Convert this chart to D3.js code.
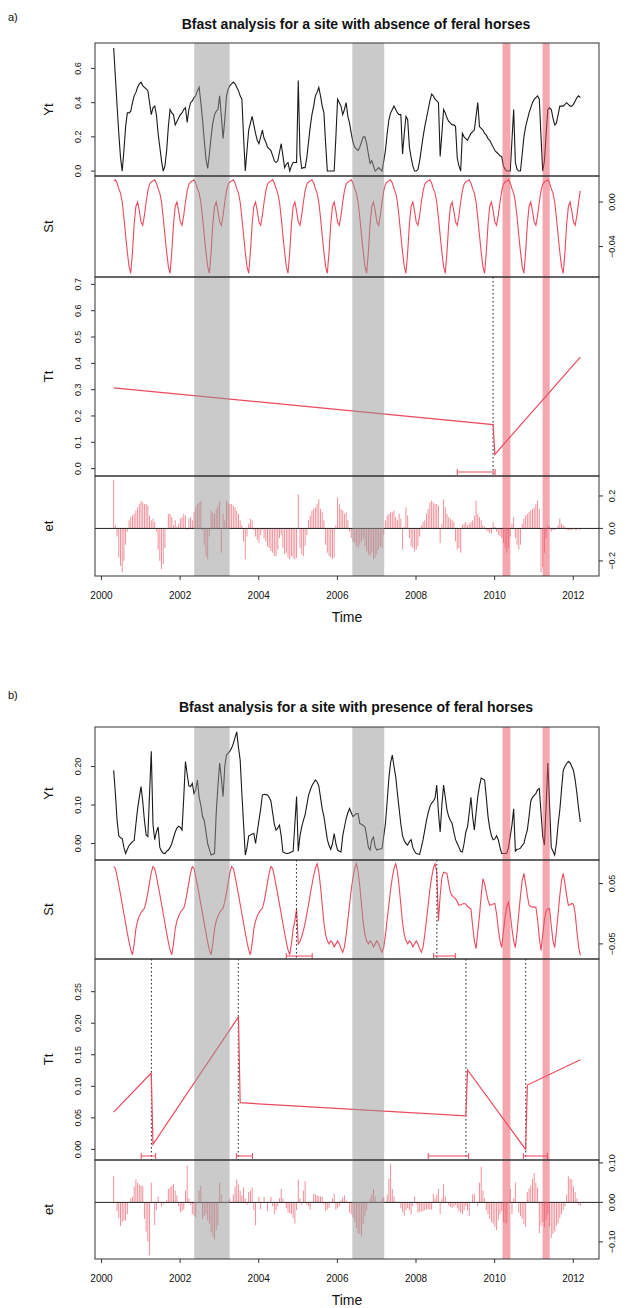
<!DOCTYPE html>
<html>
<head>
<meta charset="utf-8">
<script src="https://cdn.jsdelivr.net/npm/d3@7"></script>
<style>
  body { margin: 0; background: #fff; }
  svg { display: block; }
  text { font-family: "Liberation Sans", Arial, Helvetica, sans-serif; fill: #111; }
</style>
</head>
<body>
<svg id="chart" width="630" height="1308"></svg>
<script>
// 16-day composites: 23 observations per year
const obsStart = 2000.31;
const obsPerYear = 23;

const yearTicks = [2000, 2002, 2004, 2006, 2008, 2010, 2012];
const greyPeriods = [[2002.36, 2003.26], [2006.38, 2007.19]];
const redPeriods = [[2010.20, 2010.40], [2011.22, 2011.40]];

// ---------- site a: absence of feral horses ----------
const ytA = [
0.72,0.55,0.38,0.22,0.08,0.00,0.12,0.26,0.34,0.34,
0.35,0.40,0.44,0.46,0.49,0.51,0.52,0.50,0.49,0.48,
0.47,0.40,0.33,0.37,0.38,0.33,0.22,0.14,0.06,0.00,
0.03,0.12,0.26,0.36,0.34,0.33,0.27,0.29,0.31,0.33,
0.34,0.36,0.37,0.285,0.36,0.40,0.41,0.43,0.44,0.47,
0.49,0.40,0.30,0.18,0.07,0.015,0.10,0.20,0.28,0.33,
0.35,0.36,0.44,0.32,0.19,0.30,0.44,0.48,0.50,0.51,
0.52,0.51,0.49,0.47,0.44,0.42,0.20,0.00,0.12,0.24,
0.28,0.32,0.27,0.22,0.18,0.16,0.20,0.24,0.19,0.17,
0.14,0.13,0.12,0.09,0.06,0.05,0.06,0.11,0.16,0.09,
0.02,0.04,0.05,0.00,0.03,0.05,0.05,0.05,0.53,0.10,
0.015,0.02,0.02,0.08,0.17,0.26,0.33,0.38,0.44,0.46,
0.49,0.44,0.38,0.34,0.16,0.00,0.00,0.00,0.00,0.00,
0.20,0.42,0.40,0.38,0.33,0.36,0.40,0.32,0.28,0.22,
0.17,0.14,0.13,0.12,0.14,0.17,0.20,0.20,0.16,0.10,
0.045,0.06,0.03,0.00,0.01,0.02,0.01,0.00,0.06,0.12,
0.22,0.30,0.34,0.36,0.38,0.36,0.34,0.33,0.33,0.10,
0.22,0.32,0.30,0.14,0.08,0.03,0.00,0.00,0.01,0.06,
0.13,0.20,0.26,0.31,0.36,0.41,0.45,0.44,0.42,0.41,
0.40,0.085,0.22,0.36,0.34,0.31,0.29,0.28,0.27,0.27,
0.26,0.075,0.03,0.00,0.22,0.20,0.19,0.18,0.20,0.22,
0.23,0.24,0.32,0.40,0.26,0.25,0.24,0.22,0.21,0.19,
0.18,0.16,0.14,0.12,0.11,0.10,0.09,0.085,0.03,0.01,
0.00,0.00,0.00,0.18,0.36,0.05,0.01,0.00,0.00,0.10,
0.20,0.26,0.30,0.34,0.37,0.40,0.42,0.43,0.44,0.42,
0.20,0.00,0.06,0.22,0.36,0.37,0.36,0.31,0.27,0.28,
0.33,0.38,0.38,0.38,0.39,0.40,0.39,0.38,0.38,0.39,
0.41,0.43,0.44,0.43
];

const stA = [
0.019,0.020,0.017,0.012,0.008,0.000,-0.014,-0.030,-0.045,-0.058,-0.064,-0.045,-0.020,-0.004,0.000,-0.008,-0.018,-0.021,-0.012,0.000,0.010,0.016,0.018,
0.019,0.020,0.017,0.012,0.008,0.000,-0.014,-0.030,-0.045,-0.058,-0.064,-0.045,-0.020,-0.004,0.000,-0.008,-0.018,-0.021,-0.012,0.000,0.010,0.016,0.018,
0.019,0.020,0.017,0.012,0.008,0.000,-0.014,-0.030,-0.045,-0.058,-0.064,-0.045,-0.020,-0.004,0.000,-0.008,-0.018,-0.021,-0.012,0.000,0.010,0.016,0.018,
0.019,0.020,0.017,0.012,0.008,0.000,-0.014,-0.030,-0.045,-0.058,-0.064,-0.045,-0.020,-0.004,0.000,-0.008,-0.018,-0.021,-0.012,0.000,0.010,0.016,0.018,
0.019,0.020,0.017,0.012,0.008,0.000,-0.014,-0.030,-0.045,-0.058,-0.064,-0.045,-0.020,-0.004,0.000,-0.008,-0.018,-0.021,-0.012,0.000,0.010,0.016,0.018,
0.019,0.020,0.017,0.012,0.008,0.000,-0.014,-0.030,-0.045,-0.058,-0.064,-0.045,-0.020,-0.004,0.000,-0.008,-0.018,-0.021,-0.012,0.000,0.010,0.016,0.018,
0.019,0.020,0.017,0.012,0.008,0.000,-0.014,-0.030,-0.045,-0.058,-0.064,-0.045,-0.020,-0.004,0.000,-0.008,-0.018,-0.021,-0.012,0.000,0.010,0.016,0.018,
0.019,0.020,0.017,0.012,0.008,0.000,-0.014,-0.030,-0.045,-0.058,-0.064,-0.045,-0.020,-0.004,0.000,-0.008,-0.018,-0.021,-0.012,0.000,0.010,0.016,0.018,
0.019,0.020,0.017,0.012,0.008,0.000,-0.014,-0.030,-0.045,-0.058,-0.064,-0.045,-0.020,-0.004,0.000,-0.008,-0.018,-0.021,-0.012,0.000,0.010,0.016,0.018,
0.019,0.020,0.017,0.012,0.008,0.000,-0.014,-0.030,-0.045,-0.058,-0.064,-0.045,-0.020,-0.004,0.000,-0.008,-0.018,-0.021,-0.012,0.000,0.010,0.016,0.018,
0.019,0.020,0.017,0.012,0.008,0.000,-0.014,-0.030,-0.045,-0.058,-0.064,-0.045,-0.020,-0.004,0.000,-0.008,-0.018,-0.021,-0.012,0.000,0.010,0.016,0.018,
0.019,0.020,0.017,0.012,0.008,0.000,-0.014,-0.030,-0.045,-0.058,-0.064,-0.045,-0.020,-0.004,0.000,-0.008,-0.018,-0.021,-0.012,0.000,0.010
];

const etA = [
0.30,0.02,-0.05,-0.18,-0.23,-0.27,-0.20,-0.10,-0.02,0.05,
0.07,0.08,0.09,0.11,0.13,0.15,0.17,0.16,0.15,0.15,
0.14,0.08,0.05,0.06,0.04,-0.02,-0.13,-0.20,-0.25,-0.22,
-0.12,0.00,0.09,0.09,0.07,0.02,0.05,0.01,0.03,0.06,
0.07,0.09,0.08,-0.01,0.06,0.07,0.05,0.10,0.13,0.15,
0.16,0.17,-0.01,-0.10,-0.17,-0.19,-0.05,0.11,0.10,0.09,
0.12,0.14,0.17,-0.15,0.09,0.05,0.17,0.16,0.15,0.15,
0.14,0.13,0.11,0.09,0.05,0.02,-0.08,-0.19,-0.05,0.03,
0.06,0.05,-0.01,-0.05,-0.07,-0.09,-0.04,-0.01,-0.06,-0.08,
-0.11,-0.12,-0.14,-0.15,-0.17,-0.17,-0.13,-0.06,-0.04,-0.12,
-0.16,-0.15,-0.18,-0.19,-0.17,-0.18,-0.19,-0.18,0.21,-0.12,
-0.16,-0.17,-0.11,-0.04,0.05,0.08,0.11,0.12,0.13,0.15,
0.18,0.12,0.10,0.05,-0.10,-0.15,-0.17,-0.18,-0.19,-0.18,
0.02,0.19,0.15,0.12,0.11,0.09,0.10,0.05,-0.02,-0.06,
-0.08,-0.09,-0.11,-0.12,-0.10,-0.08,-0.06,-0.11,-0.14,-0.16,
-0.17,-0.15,-0.19,-0.18,-0.16,-0.13,-0.11,-0.12,-0.04,0.05,
0.08,0.09,0.10,0.10,0.11,0.07,0.05,0.09,0.06,-0.13,
0.01,0.13,0.08,-0.06,-0.11,-0.12,-0.14,-0.13,-0.11,-0.05,
0.02,0.04,0.05,0.09,0.12,0.16,0.17,0.16,0.15,0.15,
0.14,-0.09,0.03,0.18,0.13,0.09,0.07,0.06,0.05,0.04,
-0.08,-0.13,-0.12,-0.15,0.02,0.03,0.04,0.02,0.03,0.04,
0.05,0.08,0.17,0.09,0.07,0.05,0.02,0.01,-0.01,-0.02,
-0.03,-0.03,0.04,0.01,-0.02,-0.04,-0.05,-0.06,-0.09,-0.12,
-0.15,-0.12,-0.05,0.03,0.07,-0.06,-0.10,-0.13,-0.10,0.03,
0.06,0.08,0.09,0.10,0.11,0.12,0.13,0.15,0.17,0.12,
-0.27,-0.24,-0.15,-0.06,0.02,0.01,-0.02,-0.01,-0.01,0.00,
0.02,0.06,0.03,0.02,0.01,-0.01,-0.01,-0.01,-0.01,0.00,
-0.01,-0.01,0.00,-0.01
];

// fitted trend: segment end points (observation index, value)
const ttIndexA = [0, 222, 223, 273];
const ttValueA = [0.307, 0.167, 0.054, 0.424];
const ttLimitsA = [0, 0.70];
const trendBreaksA = [2009.96];
const trendIntervalsA = [[2009.05, 2010.01]];
const seasonBreaksA = [];
const seasonIntervalsA = [];

// tick values per panel
const ytTicksA = [0, 0.2, 0.4, 0.6];
const stTicksA = [-0.04, 0.00];
const ttTicksA = [0, 0.1, 0.2, 0.3, 0.4, 0.5, 0.6, 0.7];
const etTicksA = [-0.2, 0.0, 0.2];

// ---------- site b: presence of feral horses ----------
const ytB = [
0.19,0.13,0.06,0.02,0.015,0.013,-0.01,-0.026,-0.015,-0.005,
0.0,0.005,0.008,0.05,0.09,0.12,0.148,0.11,0.06,0.022,
0.018,0.13,0.24,0.05,0.01,0.03,0.043,-0.01,-0.02,-0.025,
-0.026,-0.02,-0.017,-0.01,0.0,0.015,0.03,0.04,0.045,0.042,
0.035,0.12,0.213,0.18,0.15,0.148,0.156,0.13,0.14,0.165,
0.12,0.10,0.07,0.06,0.03,0.0,-0.015,-0.03,-0.028,-0.026,
0.08,0.15,0.209,0.17,0.122,0.2,0.23,0.235,0.24,0.248,
0.26,0.275,0.29,0.25,0.217,0.13,0.05,-0.03,-0.01,0.02,
0.022,0.025,0.026,0.0,0.03,0.06,0.09,0.126,0.128,0.127,
0.126,0.12,0.11,0.08,0.05,0.035,0.04,0.048,0.02,-0.022,
-0.024,-0.026,-0.026,-0.024,-0.022,-0.02,0.05,0.122,-0.02,0.02,
0.043,0.06,0.075,0.1,0.125,0.139,0.15,0.158,0.165,0.16,
0.15,0.12,0.09,0.07,0.04,0.01,-0.005,-0.015,0.0,0.026,
0.0,-0.017,-0.02,-0.022,0.02,0.043,0.065,0.08,0.091,0.08,
0.07,0.074,0.078,0.078,0.052,0.05,0.047,0.043,0.02,-0.01,
-0.017,0.01,0.017,-0.01,-0.017,-0.015,-0.014,-0.013,0.02,0.052,
0.11,0.17,0.21,0.23,0.2,0.174,0.13,0.09,0.05,0.02,
0.008,0.0,-0.004,0.005,0.01,-0.01,-0.02,-0.026,-0.027,-0.028,
-0.01,0.01,0.035,0.06,0.08,0.096,0.105,0.11,0.118,0.152,
0.08,0.03,0.1,0.152,0.12,0.087,0.07,0.06,0.052,0.03,
0.01,0.0,-0.01,-0.02,-0.022,0.0,0.03,0.043,0.08,0.12,
0.07,0.035,0.08,0.122,0.15,0.17,0.168,0.165,0.12,0.07,
0.04,0.02,0.01,0.012,0.02,0.01,-0.01,-0.026,-0.026,-0.026,
-0.025,-0.01,0.02,0.048,0.09,-0.02,-0.015,-0.014,-0.012,-0.005,
0.0,0.02,0.035,0.07,0.11,0.12,0.125,0.13,0.14,0.143,
0.08,0.02,-0.004,0.1,0.209,0.1,-0.01,-0.02,-0.03,0.0,
0.05,0.087,0.14,0.19,0.2,0.208,0.213,0.21,0.2,0.19,
0.165,0.13,0.09,0.056
];

const stB = [
0.078,0.075,0.062,0.047,0.032,0.016,0.000,-0.016,-0.032,-0.047,-0.060,-0.068,-0.050,-0.025,-0.012,-0.004,0.002,0.006,0.009,0.020,0.035,0.052,0.068,
0.078,0.075,0.062,0.047,0.032,0.016,0.000,-0.016,-0.032,-0.047,-0.060,-0.068,-0.050,-0.025,-0.012,-0.004,0.002,0.006,0.009,0.020,0.035,0.052,0.068,
0.078,0.075,0.062,0.047,0.032,0.016,0.000,-0.016,-0.032,-0.047,-0.060,-0.068,-0.050,-0.025,-0.012,-0.004,0.002,0.006,0.009,0.020,0.035,0.052,0.068,
0.078,0.075,0.062,0.047,0.032,0.016,0.000,-0.016,-0.032,-0.047,-0.060,-0.068,-0.050,-0.025,-0.012,-0.004,0.002,0.006,0.009,0.020,0.035,0.052,0.068,
0.078,0.075,0.062,0.047,0.032,0.016,0.000,-0.016,-0.032,-0.047,-0.060,-0.068,-0.050,-0.025,-0.012,0.008,
-0.050,-0.046,-0.038,-0.028,-0.015,0.000,0.015,0.032,0.048,0.063,0.075,
0.083,0.070,0.045,0.015,-0.015,-0.035,-0.045,-0.050,-0.045,-0.048,-0.055,-0.050,-0.045,-0.050,-0.058,-0.064,-0.055,-0.035,-0.010,0.015,0.040,0.060,0.075,
0.083,0.070,0.045,0.015,-0.015,-0.035,-0.045,-0.050,-0.045,-0.048,-0.055,-0.050,-0.045,-0.050,-0.058,-0.064,-0.055,-0.035,-0.010,0.015,0.040,0.060,0.075,
0.083,0.070,0.045,0.015,-0.015,-0.035,-0.045,-0.050,-0.045,-0.048,-0.055,-0.050,-0.045,-0.050,-0.058,-0.064,-0.055,-0.035,-0.010,0.015,0.040,0.060,0.075,
0.083,0.070,
-0.012,0.030,0.060,0.069,0.068,0.066,0.050,0.035,0.030,0.027,
0.025,0.020,0.014,0.015,0.016,0.017,0.016,0.012,0.010,0.008,
-0.020,-0.045,-0.058,-0.030,-0.003,0.030,0.058,0.050,0.035,0.022,
0.014,0.015,0.016,0.017,0.000,-0.025,-0.045,-0.056,-0.030,-0.005,
0.012,0.019,0.000,-0.025,-0.045,-0.056,-0.030,0.000,0.030,0.055,
0.067,0.050,0.030,0.014,0.012,0.011,0.011,0.011,-0.010,-0.040,
-0.061,-0.035,-0.010,0.005,0.008,0.008,-0.020,-0.045,-0.056,-0.030,
0.000,0.030,0.055,0.067,0.050,0.030,0.014,0.015,0.017,0.016,
0.000,-0.030,-0.055,-0.069
];

const etB = [
0.066,0.0,-0.022,-0.04,-0.06,-0.05,-0.046,-0.046,-0.03,0.0,
0.01,0.014,0.04,0.058,0.05,0.045,0.042,0.042,-0.042,-0.074,
-0.1,-0.134,0.05,0.0,-0.058,-0.02,0.014,0.0,-0.01,-0.005,
0.0,0.006,0.034,0.038,0.042,0.046,0.03,0.018,-0.01,-0.026,
-0.022,-0.018,0.03,0.094,0.01,-0.006,-0.03,-0.034,-0.038,0.0,
0.03,0.042,-0.042,-0.035,-0.03,-0.045,-0.054,-0.075,-0.086,-0.094,
-0.07,-0.058,0.05,0.02,0.002,0.0,-0.002,0.005,0.01,-0.002,
0.02,0.04,0.058,0.046,0.03,0.018,0.038,0.01,-0.006,0.026,
0.03,0.038,-0.02,-0.058,0.0,0.014,-0.018,0.0,0.014,0.0,
-0.022,0.0,0.014,-0.01,-0.03,-0.02,-0.01,0.01,0.034,0.01,
-0.002,-0.015,-0.026,-0.028,-0.03,-0.04,-0.054,-0.02,0.058,0.01,
-0.006,0.03,0.054,-0.006,-0.01,-0.018,0.0,0.022,0.02,0.018,
0.016,0.015,0.014,-0.005,-0.022,-0.018,-0.014,0.0,0.01,0.022,
-0.018,-0.015,-0.01,0.005,0.012,0.018,0.005,-0.002,-0.026,-0.03,
-0.038,-0.05,-0.065,-0.078,-0.08,-0.086,-0.054,-0.035,-0.02,0.0,
0.01,0.02,0.034,0.015,-0.002,0.0,0.002,0.01,0.014,-0.002,
0.02,0.06,0.098,0.034,0.015,0.002,0.0,-0.002,-0.015,-0.025,
-0.034,-0.02,-0.014,-0.02,-0.03,-0.01,0.014,-0.005,-0.026,-0.024,
-0.023,-0.022,-0.02,-0.018,-0.018,-0.018,-0.018,0.022,0.01,0.02,
0.034,-0.03,0.01,0.046,0.015,-0.002,-0.008,-0.012,-0.014,-0.01,
-0.006,-0.015,-0.022,-0.026,-0.03,-0.02,-0.01,-0.02,-0.034,0.0,
0.02,0.022,0.0,-0.01,0.05,0.09,0.03,0.01,-0.02,-0.03,
-0.042,-0.05,-0.054,-0.062,-0.07,-0.045,-0.03,-0.022,-0.05,-0.052,
-0.054,0.0,0.034,-0.03,0.01,0.05,0.0,-0.026,-0.035,-0.042,
-0.055,-0.062,0.026,0.035,0.042,0.06,0.074,0.05,0.038,-0.078,
-0.06,-0.05,-0.062,-0.045,-0.03,-0.06,-0.09,-0.08,-0.074,-0.06,
-0.054,-0.04,-0.03,-0.02,-0.01,0.02,0.066,0.06,0.058,0.04,
0.026,0.01,-0.006,-0.01
];

const ttIndexB = [0, 22, 23, 73, 74, 206, 207, 241, 242, 273];
const ttValueB = [0.059, 0.121, 0.008, 0.210, 0.074, 0.053, 0.126, 0.000, 0.102, 0.142];
const ttLimitsB = [-0.005, 0.29];
const trendBreaksB = [2001.27, 2003.48, 2009.27, 2010.79];
const trendIntervalsB = [[2001.01, 2001.38], [2003.43, 2003.84], [2008.31, 2009.34], [2010.73, 2011.34]];
const seasonBreaksB = [2004.96, 2008.53];
const seasonIntervalsB = [[2004.70, 2005.36], [2008.45, 2009.00]];

const ytTicksB = [0, 0.1, 0.2];
const stTicksB = [-0.05, 0.05];
const ttTicksB = [0, 0.05, 0.10, 0.15, 0.20, 0.25];
const etTicksB = [-0.1, 0.0, 0.1];

// ---------- drawing ----------
const svg = d3.select("#chart");
const RED = "#ec4a5c";
const BAR = "#f2909a";

// R-style 4% axis padding
const pad = ([lo, hi]) => [lo - 0.04 * (hi - lo), hi + 0.04 * (hi - lo)];

const sites = [
  {
    tag: "a)", title: "Bfast analysis for a site with absence of feral horses",
    yt: ytA, st: stA, et: etA, ttIndex: ttIndexA, ttValue: ttValueA, ttLimits: ttLimitsA,
    trendBreaks: trendBreaksA, trendIntervals: trendIntervalsA,
    seasonBreaks: seasonBreaksA, seasonIntervals: seasonIntervalsA,
    ticks: [ytTicksA, stTicksA, ttTicksA, etTicksA], decimals: [1, 2, 1, 1],
    layout: { tagY: 21, titleY: 29, top: 43, heights: [133, 101, 199, 100], yearY: 599, timeY: 622 }
  },
  {
    tag: "b)", title: "Bfast analysis for a site with presence of feral horses",
    yt: ytB, st: stB, et: etB, ttIndex: ttIndexB, ttValue: ttValueB, ttLimits: ttLimitsB,
    trendBreaks: trendBreaksB, trendIntervals: trendIntervalsB,
    seasonBreaks: seasonBreaksB, seasonIntervals: seasonIntervalsB,
    ticks: [ytTicksB, stTicksB, ttTicksB, etTicksB], decimals: [2, 2, 2, 2],
    layout: { tagY: 699, titleY: 712, top: 727, heights: [133, 99, 201, 99], yearY: 1282, timeY: 1305 }
  }
];

const LEFT = 95, RIGHT = 599;

sites.forEach((site, si) => {
  const L = site.layout;
  const g = svg.append("g");
  const times = site.yt.map((_, i) => obsStart + i / obsPerYear);
  const x = d3.scaleLinear().domain(pad(d3.extent(times))).range([LEFT, RIGHT]);

  // panel extents
  const tops = [];
  let acc = L.top;
  L.heights.forEach(h => { tops.push(acc); acc += h; });
  const bottom = acc;

  const clipId = "clip" + si;
  g.append("clipPath").attr("id", clipId)
    .append("rect").attr("x", LEFT).attr("y", L.top).attr("width", RIGHT - LEFT).attr("height", bottom - L.top);

  const domains = [
    pad(d3.extent(site.yt)),
    pad(d3.extent(site.st)),
    pad(site.ttLimits),
    pad(d3.extent(site.et))
  ];
  const ys = domains.map((d, k) => d3.scaleLinear().domain(d).range([tops[k] + L.heights[k], tops[k]]));

  const plot = g.append("g").attr("clip-path", `url(#${clipId})`);

  // Yt
  plot.append("path").datum(site.yt)
    .attr("fill", "none").attr("stroke", "#1a1a1a").attr("stroke-width", 1.1)
    .attr("d", d3.line().x((d, i) => x(times[i])).y(d => ys[0](d)));

  // St
  plot.append("path").datum(site.st)
    .attr("fill", "none").attr("stroke", RED).attr("stroke-width", 1.1)
    .attr("d", d3.line().x((d, i) => x(times[i])).y(d => ys[1](d)));

  // seasonal breaks
  site.seasonBreaks.forEach(b => {
    plot.append("line").attr("x1", x(b)).attr("x2", x(b))
      .attr("y1", tops[1]).attr("y2", tops[1] + L.heights[1])
      .attr("stroke", "#333").attr("stroke-width", 1.1).attr("stroke-dasharray", "1.5,2.5");
  });

  // Tt breaks
  site.trendBreaks.forEach(b => {
    plot.append("line").attr("x1", x(b)).attr("x2", x(b))
      .attr("y1", tops[2]).attr("y2", tops[2] + L.heights[2])
      .attr("stroke", "#333").attr("stroke-width", 1.1).attr("stroke-dasharray", "1.5,2.5");
  });

  // Tt
  const ttPts = site.ttIndex.map((idx, k) => [obsStart + idx / obsPerYear, site.ttValue[k]]);
  plot.append("path").datum(ttPts)
    .attr("fill", "none").attr("stroke", RED).attr("stroke-width", 1.2)
    .attr("d", d3.line().x(d => x(d[0])).y(d => ys[2](d[1])));

  // confidence intervals of breakpoints
  const drawInterval = (iv, yPos) => {
    const ci = plot.append("g").attr("stroke", RED).attr("stroke-width", 1);
    ci.append("line").attr("x1", x(iv[0])).attr("x2", x(iv[1])).attr("y1", yPos).attr("y2", yPos);
    [iv[0], iv[1]].forEach(v => ci.append("line").attr("x1", x(v)).attr("x2", x(v)).attr("y1", yPos - 3).attr("y2", yPos + 3));
  };
  site.trendIntervals.forEach(iv => drawInterval(iv, tops[2] + L.heights[2] - 4));
  site.seasonIntervals.forEach(iv => drawInterval(iv, tops[1] + L.heights[1] - 3));

  // et bars
  plot.append("g").selectAll("line").data(site.et).join("line")
    .attr("x1", (d, i) => x(times[i])).attr("x2", (d, i) => x(times[i]))
    .attr("y1", ys[3](0)).attr("y2", d => ys[3](d))
    .attr("stroke", BAR).attr("stroke-width", 1);
  g.append("line").attr("x1", LEFT).attr("x2", RIGHT).attr("y1", ys[3](0)).attr("y2", ys[3](0))
    .attr("stroke", "#222").attr("stroke-width", 1);

  // shaded periods (drawn over the series)
  greyPeriods.forEach(p => g.append("rect")
    .attr("x", x(p[0])).attr("width", x(p[1]) - x(p[0]))
    .attr("y", L.top).attr("height", bottom - L.top)
    .attr("fill", "rgb(150,150,150)").attr("fill-opacity", 0.5));
  redPeriods.forEach(p => g.append("rect")
    .attr("x", x(p[0])).attr("width", x(p[1]) - x(p[0]))
    .attr("y", L.top).attr("height", bottom - L.top)
    .attr("fill", "rgb(236,80,96)").attr("fill-opacity", 0.5));

  // frames
  tops.forEach((t, k) => g.append("rect")
    .attr("x", LEFT).attr("y", t).attr("width", RIGHT - LEFT).attr("height", L.heights[k])
    .attr("fill", "none").attr("stroke", "#333").attr("stroke-width", 1));

  // y axes: Yt and Tt on the left, St and et on the right
  const names = ["Yt", "St", "Tt", "et"];
  const fmt = site.decimals.map(d => d3.format(`.${d}f`));
  names.forEach((nm, k) => {
    const leftSide = (k % 2 === 0);
    const edge = leftSide ? LEFT : RIGHT;
    const dir = leftSide ? -1 : 1;
    site.ticks[k].forEach(v => {
      const yy = ys[k](v);
      g.append("line").attr("x1", edge).attr("x2", edge + dir * 4).attr("y1", yy).attr("y2", yy)
        .attr("stroke", "#333").attr("stroke-width", 1);
      const lx = leftSide ? 81 : 615;
      g.append("text").attr("transform", `translate(${lx},${yy}) rotate(-90)`)
        .attr("text-anchor", "middle").attr("font-size", 9)
        .text(fmt[k](v).replace("-", "\u2212"));
    });
    g.append("text")
      .attr("transform", `translate(53,${tops[k] + L.heights[k] / 2}) rotate(-90)`)
      .attr("text-anchor", "middle").attr("font-size", 13).text(nm);
  });

  // time axis
  yearTicks.forEach(yr => {
    g.append("line").attr("x1", x(yr)).attr("x2", x(yr)).attr("y1", bottom).attr("y2", bottom + 4)
      .attr("stroke", "#333").attr("stroke-width", 1);
    g.append("text").attr("x", x(yr)).attr("y", L.yearY).attr("text-anchor", "middle")
      .attr("font-size", 10).text(yr);
  });
  g.append("text").attr("x", (LEFT + RIGHT) / 2).attr("y", L.timeY).attr("text-anchor", "middle")
    .attr("font-size", 14).text("Time");

  // headings
  g.append("text").attr("x", 8).attr("y", L.tagY).attr("font-size", 11).text(site.tag);
  g.append("text").attr("x", 356).attr("y", L.titleY).attr("text-anchor", "middle")
    .attr("font-size", 14).attr("font-weight", "bold").text(site.title);
});
</script>
</body>
</html>
